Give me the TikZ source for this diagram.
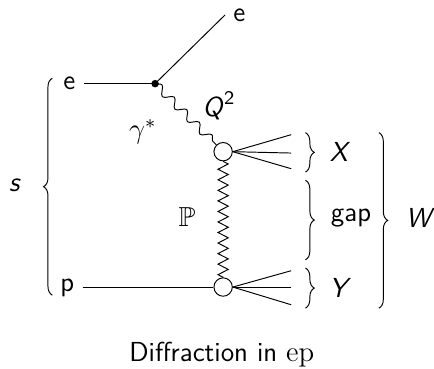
\documentclass[tikz,border=0pt]{standalone}
\usepackage{amsmath, amssymb}
\usepackage{tikz}
\usetikzlibrary{decorations.pathmorphing, decorations.pathreplacing, positioning}

\newcommand{\sfit}[1]{\textsf{\textit{#1}}}

\begin{document}
\begin{tikzpicture}[font=\sffamily\fontsize{11.5}{14}\selectfont,
  lbl/.style={text height=1.6ex, text depth=0.4ex},
  blob/.style={draw, circle, minimum size=0.27cm, inner sep=0pt, fill=white},
  photon/.style={decorate, decoration={snake, amplitude=0.6mm, segment length=2.6mm}},
  pomeron/.style={decorate, decoration={zigzag, amplitude=0.75mm, segment length=1.55mm}},
  brc/.style={decorate, decoration={brace, amplitude=1.3mm}}]
  \useasboundingbox (0,0) rectangle (6.38,5.41);

  % Incoming beams
  \node[lbl] (ein) at (1.02,4.19) {e};
  \node[lbl] (pin) at (0.99,1.21) {p};
  \coordinate (V) at (2.28,4.18);
  \node[lbl] (eout) at (3.52,5.19) {e};
  \node[blob] (X) at (3.28,3.18) {};
  \node[blob] (Y) at (3.28,1.19) {};

  \draw (ein.east |- V) -- (V);
  \draw (V) -- (eout.west);
  \draw (pin.east |- Y) -- (Y);

  % Exchanged photon and pomeron
  \draw[photon] (V) -- (X);
  \draw[pomeron] (X) -- (Y);
  \fill (V) circle (0.055);
  \node (Q) at (3.22,3.86) {$\textsf{\textit{Q}}^{\textsf{2}}$};
  \node (gam) at (2.1,3.47) {$\gamma^*$};
  \node (pom) at (2.75,2.22) {$\mathbb{P}$};

  % Outgoing systems
  \coordinate (x1) at (4.28,3.43);
  \coordinate (x2) at (4.28,3.16);
  \coordinate (x3) at (4.28,2.93);
  \coordinate (y1) at (4.28,1.43);
  \coordinate (y2) at (4.28,1.19);
  \coordinate (y3) at (4.28,0.93);
  \foreach \c in {x1,x2,x3} \draw (X.east) -- (\c);
  \foreach \c in {y1,y2,y3} \draw (Y.east) -- (\c);

  % Braces
  \draw[brc] (0.77,1.07) -- (0.77,4.26);
  \node (s) at (0.22,2.69) {\sfit{s}};
  \draw[brc] (4.49,3.46) -- (4.49,2.88);
  \node (lX) at (5.0,3.17) {\sfit{X}};
  \draw[brc] (4.49,2.76) -- (4.49,1.59);
  \node (gap) at (5.16,2.2) {gap};
  \draw[brc] (4.49,1.47) -- (4.49,0.88);
  \node (lY) at (5.0,1.18) {\sfit{Y}};
  \draw[brc] (5.57,3.46) -- (5.57,0.88);
  \node (lW) at (6.18,2.21) {\sfit{W}};

  \node (cap) at (3.26,0.2) {Diffraction in $\mathrm{ep}$};
\end{tikzpicture}
\end{document}
